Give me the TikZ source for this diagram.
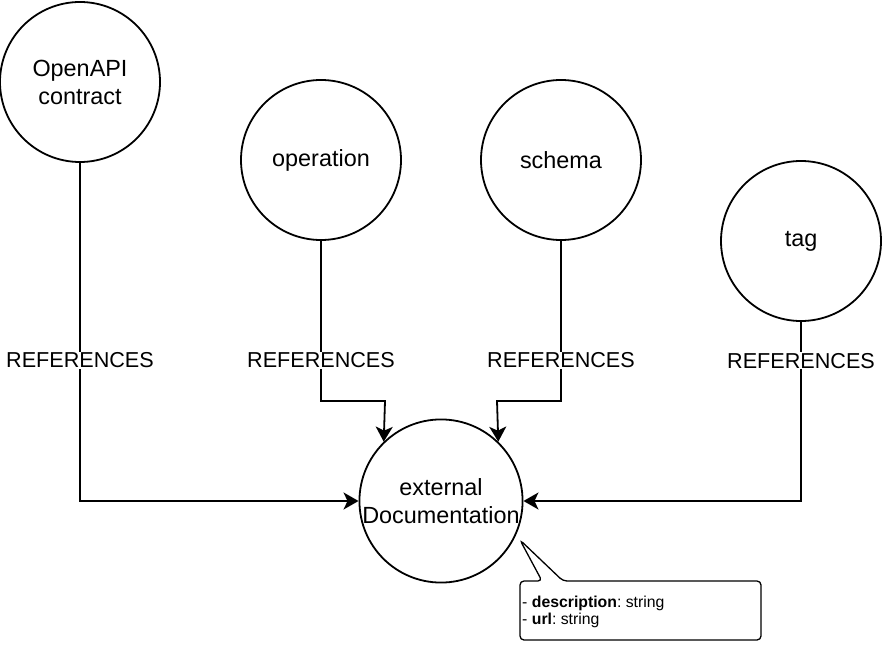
\documentclass[tikz,border=0pt]{standalone}
\usepackage{fontspec}
\setmainfont{Liberation Sans}
\usetikzlibrary{arrows.meta}
\frenchspacing

\tikzset{
  entity/.style={draw, circle, line width=1.8pt, minimum size=160pt, inner sep=0pt,
    align=center, font=\fontsize{23.4}{28}\selectfont},
  ref/.style={line width=1.8pt, -{Stealth[length=15pt,width=17pt,inset=4pt]}},
  lbl/.style={fill=white, inner sep=1pt, font=\fontsize{21.6}{26}\selectfont}
}

\begin{document}
\begin{tikzpicture}[x=1pt, y=-1pt]
            \useasboundingbox (0,0) rectangle (882,652);

            % 实体
            \node[entity] (openapi) at (80,82) {OpenAPI\\contract};
            \node[entity] (operation) at (321,160) {operation};
            \node[entity] (schema) at (561,160) {schema};
            \node[entity] (tag) at (801,241) {tag};
            \node[entity] (extdoc) at (441,501) {external\\Documentation};

            % 拐点
            \coordinate (opbend) at (385,401);
            \coordinate (scbend) at (497,401);

            % 引用关系
            \draw[ref] (openapi.south) |- (extdoc.west) node[lbl, pos=0.292] {REFERENCES};
            \draw[ref] (operation.south) |- (opbend) node[lbl, pos=0.373] {REFERENCES} -- (extdoc.134);
            \draw[ref] (schema.south) |- (scbend) node[lbl, pos=0.373] {REFERENCES} -- (extdoc.46);
            \draw[ref] (tag.south) |- (extdoc.east) node[lbl, pos=0.108] {REFERENCES};

            % 属性说明
            \draw[line width=1.3pt, rounded corners=4pt] (542,581) -- (520,540) -- (563,581)
                -- (761,581) -- (761,640) -- (520,640) -- (520,581) -- cycle;
            \node[anchor=west, align=left, inner sep=2pt, font=\fontsize{15.8}{16.5}\selectfont]
                (attrs) at (520,612) {- \textbf{description}: string\\- \textbf{url}: string};
        \end{tikzpicture}
\end{document}
